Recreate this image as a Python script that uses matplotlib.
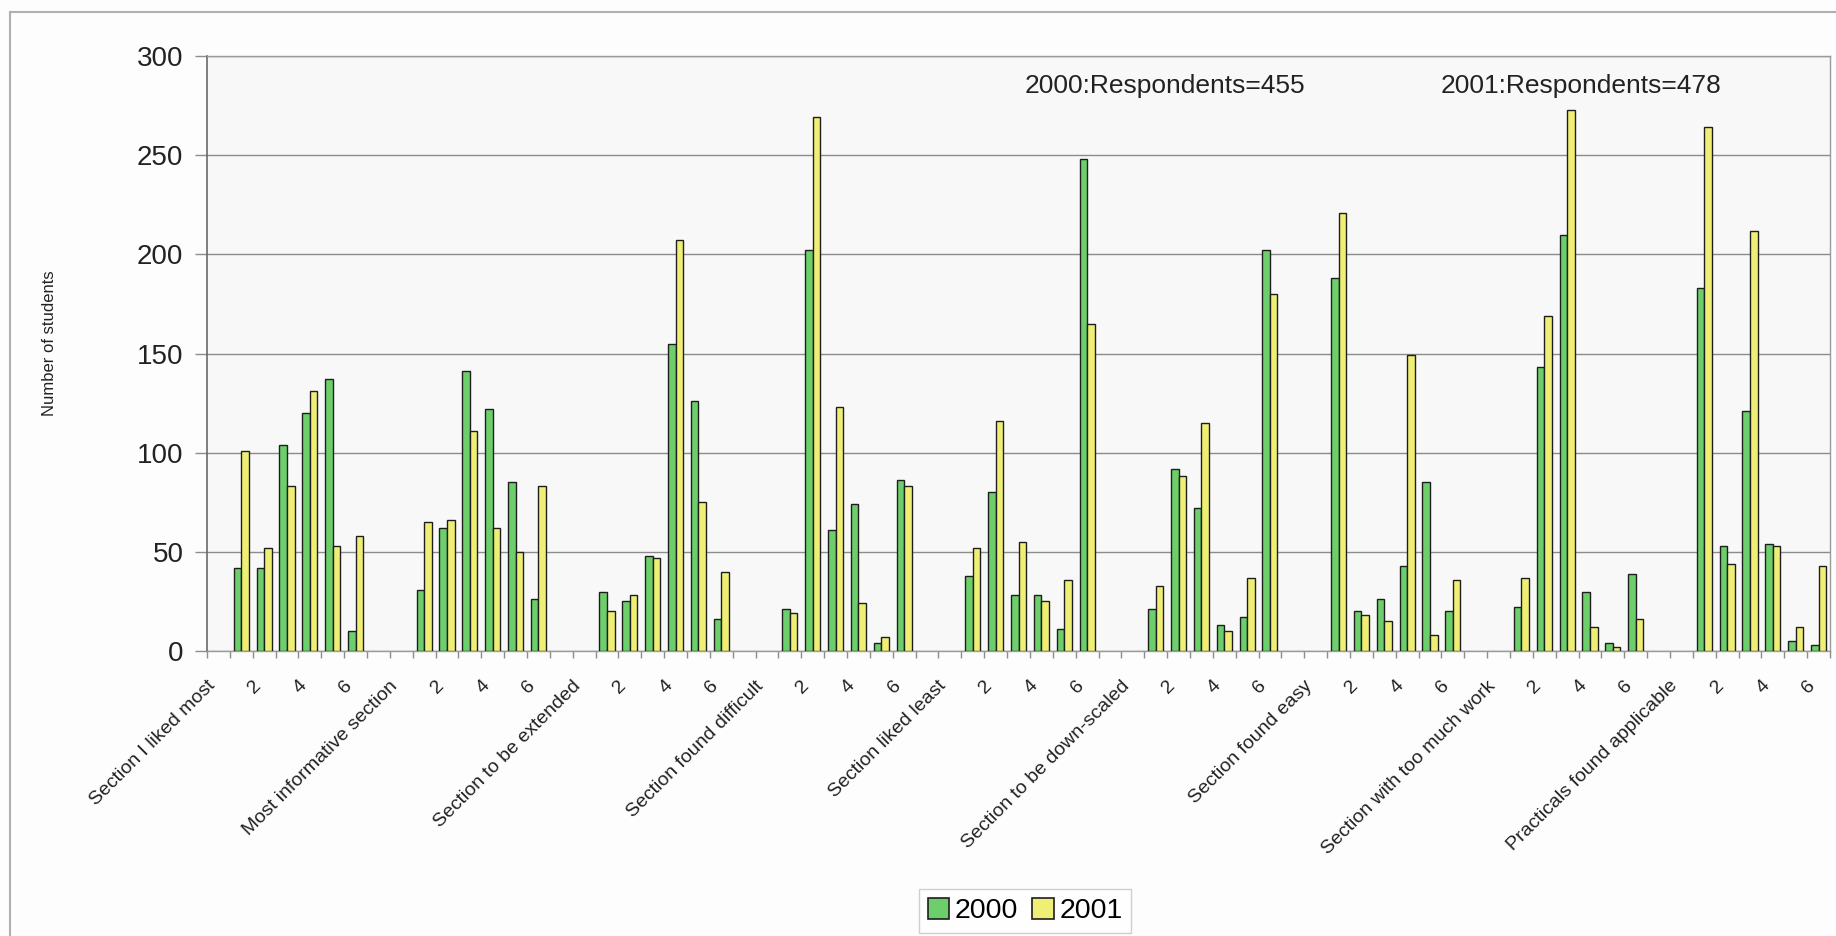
import matplotlib
matplotlib.use("Agg")
import matplotlib.pyplot as plt
from matplotlib.patches import Patch
from matplotlib.lines import Line2D
import numpy as np

plt.rcParams['font.family'] = ['Liberation Sans', 'DejaVu Sans']

# Survey sections (each has answer options 1..6)
sections = [
    "Section I liked most",
    "Most informative section",
    "Section to be extended",
    "Section found difficult",
    "Section liked least",
    "Section to be down-scaled",
    "Section found easy",
    "Section with too much work",
    "Practicals found applicable",
]
option_labels = ["", "2", "", "4", "", "6"]

# Number of students choosing each option, per section
counts_2000 = [
    [42, 42, 104, 120, 137, 10],
    [31, 62, 141, 122, 85, 26],
    [30, 25, 48, 155, 126, 16],
    [21, 202, 61, 74, 4, 86],
    [38, 80, 28, 28, 11, 248],
    [21, 92, 72, 13, 17, 202],
    [188, 20, 26, 43, 85, 20],
    [22, 143, 210, 30, 4, 39],
    [183, 53, 121, 54, 5, 3],
]
counts_2001 = [
    [101, 52, 83, 131, 53, 58],
    [65, 66, 111, 62, 50, 83],
    [20, 28, 47, 207, 75, 40],
    [19, 269, 123, 24, 7, 83],
    [52, 116, 55, 25, 36, 165],
    [33, 88, 115, 10, 37, 180],
    [221, 18, 15, 149, 8, 36],
    [37, 169, 273, 12, 2, 16],
    [264, 44, 212, 53, 12, 43],
]
series_names = ["2000", "2001"]
respondents = {"2000": 455, "2001": 478}

GREEN = "#6ccf6c"
YELLOW = "#efef76"
EDGE = "#1e1e1e"

W, H = 1836, 936
fig = plt.figure(figsize=(W / 100, H / 100), dpi=100, facecolor="#fdfdfd")

ax_left, ax_right, ax_top, ax_bot = 207, 1830, 56, 651
ax = fig.add_axes([ax_left / W, 1 - ax_bot / H, (ax_right - ax_left) / W, (ax_bot - ax_top) / H])
ax.set_facecolor("#f8f8f8")

# Each section occupies 8 category slots: a header slot, six options, one spacer
slots_per_group = 8
n_slots = slots_per_group * len(sections) - 1

x_pos, v2000, v2001 = [], [], []
for g in range(len(sections)):
    for k in range(6):
        x_pos.append(g * slots_per_group + 1 + k)
        v2000.append(counts_2000[g][k])
        v2001.append(counts_2001[g][k])
x_pos = np.array(x_pos, dtype=float)

bw = 0.33
ax.bar(x_pos - bw / 2, v2000, width=bw, color=GREEN, edgecolor=EDGE, linewidth=1.0, zorder=3)
ax.bar(x_pos + bw / 2, v2001, width=bw, color=YELLOW, edgecolor=EDGE, linewidth=1.0, zorder=3)

ax.set_xlim(-0.5, n_slots - 0.5)
ax.set_ylim(0, 300)
ax.set_yticks(np.arange(0, 301, 50))
ax.yaxis.grid(True, color="#8c8c8c", linewidth=1.0, zorder=0)
ax.set_axisbelow(True)

# category labels: section name on header slot, then every second option
tick_pos, tick_lab = [], []
for g, name in enumerate(sections):
    base = g * slots_per_group
    tick_pos.append(base)
    tick_lab.append(name)
    for k, lab in enumerate(option_labels):
        if lab:
            tick_pos.append(base + 1 + k)
            tick_lab.append(lab)
ax.set_xticks(tick_pos)
ax.set_xticklabels(tick_lab, rotation=45, ha="right", va="top", fontsize=14, color="#222222")
ax.tick_params(axis="x", which="major", length=0, pad=19)
ax.set_xticks(np.arange(-0.5, n_slots, 1.0), minor=True)
ax.tick_params(axis="x", which="minor", length=5, width=1.0, color="#8c8c8c", direction="out")

ax.tick_params(axis="y", labelsize=20, length=9, width=1.0, color="#8c8c8c", pad=8, labelcolor="#222222")

for side in ["top", "right", "bottom"]:
    ax.spines[side].set_color("#9a9a9a")
    ax.spines[side].set_linewidth(1.0)
ax.spines["left"].set_color("#6a6a6a")
ax.spines["left"].set_linewidth(1.2)

fig.text(50 / W, 1 - 343 / H, "Number of students", rotation=90, ha="center", va="center",
         fontsize=12, color="#222222")

fig.text(1025 / W, 1 - 86 / H, f"2000:Respondents={respondents['2000']}", ha="left", va="center",
         fontsize=19, color="#222222")
fig.text(1441 / W, 1 - 86 / H, f"2001:Respondents={respondents['2001']}", ha="left", va="center",
         fontsize=19, color="#222222")

handles = [Patch(facecolor=GREEN, edgecolor=EDGE, linewidth=1.2, label=series_names[0]),
           Patch(facecolor=YELLOW, edgecolor=EDGE, linewidth=1.2, label=series_names[1])]
leg = fig.legend(handles=handles, loc="center", bbox_to_anchor=(1025 / W, 1 - 911 / H), ncol=2,
                 fontsize=20.5, frameon=True, fancybox=False, edgecolor="#c4c4c4",
                 handlelength=0.75, handleheight=0.75, handletextpad=0.2, columnspacing=0.5,
                 borderpad=0.3, borderaxespad=0)
leg.get_frame().set_linewidth(1.0)
leg.get_frame().set_facecolor("#ffffff")

# outer chart frame (left and top edges fall inside the canvas)
fig.add_artist(Line2D([9.5 / W, 9.5 / W], [0, 1 - 11.5 / H], transform=fig.transFigure,
                      color="#b0b0b0", linewidth=1.5))
fig.add_artist(Line2D([9.5 / W, 1], [1 - 11.5 / H, 1 - 11.5 / H], transform=fig.transFigure,
                      color="#b0b0b0", linewidth=1.5))

fig.savefig("out.png", dpi=100, facecolor=fig.get_facecolor())
